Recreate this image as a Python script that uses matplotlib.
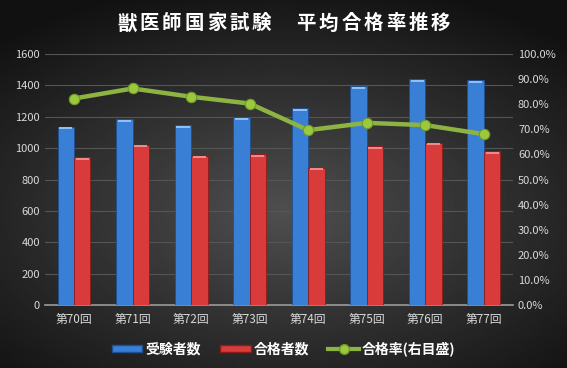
import matplotlib
matplotlib.use("Agg")
import matplotlib.pyplot as plt
import numpy as np
from matplotlib.lines import Line2D
from matplotlib.patches import Patch
from matplotlib.ticker import FuncFormatter

plt.rcParams["font.family"] = ["Noto Sans CJK JP", "DejaVu Sans"]

rounds = ["第70回", "第71回", "第72回", "第73回", "第74回", "第75回", "第76回", "第77回"]
examinees = [1137, 1186, 1146, 1197, 1254, 1394, 1441, 1432]
passed = [941, 1022, 952, 961, 876, 1014, 1035, 982]
pass_rate = [82.3, 86.3, 83.0, 80.3, 69.7, 72.6, 71.7, 68.1]
title = "獣医師国家試験　平均合格率推移"

TXT = "#d9d9d9"
fig = plt.figure(figsize=(5.67, 3.68), dpi=100)

# dark radial background
bg = fig.add_axes([0, 0, 1, 1], zorder=0)
yy, xx = np.mgrid[-1:1:200j, -1:1:300j]
r = np.sqrt((xx / 1.1) ** 2 + ((yy - 0.15) / 0.95) ** 2)
bg.imshow(np.clip(0.31 - 0.18 * r, 0.07, 0.31), cmap="gray", vmin=0, vmax=1,
          aspect="auto", extent=(0, 1, 0, 1))
bg.axis("off")

ax = fig.add_axes([0.079, 0.171, 0.826, 0.682], zorder=1)
ax.patch.set_alpha(0)
x = np.arange(len(rounds)); w = 0.28
ax.bar(x - w / 2, examinees, w, color="#3a7fd6", edgecolor="#1f4f94", lw=0.6, zorder=3)
ax.bar(x + w / 2, passed, w, color="#d93b3b", edgecolor="#8c1c1c", lw=0.6, zorder=3)
# light top bevel
ax.bar(x - w / 2, [12] * 8, w * 0.8, bottom=np.array(examinees) - 16, color="#8fc0f5", lw=0, zorder=4)
ax.bar(x + w / 2, [12] * 8, w * 0.8, bottom=np.array(passed) - 16, color="#f08a8a", lw=0, zorder=4)
ax.set_ylim(0, 1600); ax.set_xlim(-0.5, len(rounds) - 0.5)
ax.set_yticks(range(0, 1601, 200))
ax.set_xticks(x, rounds)
ax.grid(axis="y", color="#555555", lw=0.8, zorder=0)
ax.tick_params(length=0, colors=TXT, labelsize=8)
ax.tick_params(axis="x", pad=6, labelsize=8.5)
for s in ["top", "right", "left"]:
    ax.spines[s].set_visible(False)
ax.spines["bottom"].set_color("#9a9a9a"); ax.spines["bottom"].set_linewidth(1.2)

ax2 = ax.twinx()
ax2.plot(x, pass_rate, color="#8db443", lw=3.2, marker="o", ms=7.5,
         mfc="#9bc83c", mec="#6f9a2a", mew=0.8, zorder=5)
ax2.set_ylim(0, 100); ax2.set_yticks(range(0, 101, 10))
ax2.yaxis.set_major_formatter(FuncFormatter(lambda v, p: f"{v:.1f}%"))
ax2.tick_params(length=0, colors=TXT, labelsize=8)
for s in ax2.spines.values():
    s.set_visible(False)

# title with wide letter spacing
for i, ch in enumerate(title):
    fig.text((127 + i * 22.4) / 567, 0.935, ch, ha="center", va="center",
             color="white", fontsize=14, fontweight="bold")

handles = [Patch(facecolor="#3a7fd6", edgecolor="#1f4f94"),
           Patch(facecolor="#d93b3b", edgecolor="#8c1c1c"),
           Line2D([], [], color="#8db443", lw=3, marker="o", ms=7, mfc="#9bc83c", mec="#6f9a2a")]
leg = fig.legend(handles, ["受験者数", "合格者数", "合格率(右目盛)"], loc="center",
                 bbox_to_anchor=(0.5, 0.052), ncol=3, frameon=False, fontsize=10,
                 handlelength=2.2, handleheight=0.35, columnspacing=1.4, handletextpad=0.2)
for t in leg.get_texts():
    t.set_color("white"); t.set_fontweight("bold")

fig.savefig("out.png", dpi=100)
